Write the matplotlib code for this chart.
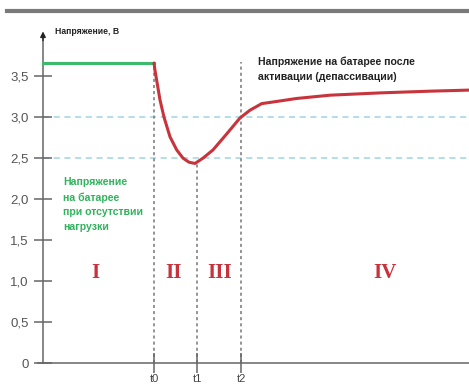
import matplotlib
matplotlib.use("Agg")
import matplotlib.pyplot as plt
from matplotlib.lines import Line2D

# time marks of the phases
t_marks = [111, 154, 198]
t_labels = ["t0", "t1", "t2"]

# no-load voltage before t0
idle_t = [0, 111]
idle_v = [3.66, 3.66]

# voltage under load after t0
load_t = [111, 112, 117, 121, 127, 133.7, 140, 146, 152, 160, 170, 184, 197,
          207, 218.7, 230, 253.7, 287, 337, 387, 426]
load_v = [3.66, 3.57, 3.21, 3.0, 2.76, 2.6, 2.5, 2.45, 2.435, 2.5, 2.6, 2.8, 2.99,
          3.085, 3.165, 3.185, 3.228, 3.268, 3.296, 3.317, 3.33]

y_ticks = [0, 0.5, 1.0, 1.5, 2.0, 2.5, 3.0, 3.5]
y_ticklabels = ["0", "0,5", "1,0", "1,5", "2,0", "2,5", "3,0", "3,5"]
ref_levels = [2.5, 3.0]

phases = ["I", "II", "III", "IV"]
phase_x = [52, 130, 177, 342]

sans = ["Liberation Sans", "DejaVu Sans"]

fig = plt.figure(figsize=(4.69, 3.87), dpi=100)
ax = fig.add_axes([38 / 469, 24 / 387, 431 / 469, 336 / 387])
ax.set_xlim(-5, 426)
ax.set_ylim(0, 4.1)

# top rule
fig.add_artist(Line2D([7 / 469, 1.0], [1 - 11 / 387] * 2, color="#7a7a7a", lw=3))

for s in ["top", "right"]:
    ax.spines[s].set_visible(False)
ax.spines["left"].set_position(("data", 0))
ax.spines["left"].set_bounds(0, 4.0)
for s in ["left", "bottom"]:
    ax.spines[s].set_color("#666666")
    ax.spines[s].set_linewidth(1.1)

# arrow on the voltage axis
ax.annotate("", xy=(0, 4.08), xytext=(0, 3.9),
            arrowprops=dict(arrowstyle="-|>", color="#222222", lw=1, mutation_scale=8))

ax.set_yticks(y_ticks)
ax.set_yticklabels(y_ticklabels, family=sans, fontsize=9.5, color="#555555")
ax.set_xticks(t_marks)
ax.set_xticklabels(t_labels, family=sans, fontsize=8, color="#444444")
ax.tick_params(axis="y", direction="inout", length=13, width=1.1, color="#666666", pad=4)
ax.tick_params(axis="x", direction="inout", length=14, width=1.1, color="#666666", pad=1)

# reference levels
for lv in ref_levels:
    ax.plot([0, 426], [lv, lv], ls=(0, (4, 3)), color="#9fd6e2", lw=1.1, zorder=1)

# phase borders
tops = [3.66, min(load_v), 3.67]
for tm, top in zip(t_marks, tops):
    ax.plot([tm, tm], [0, top], ls=(0, (2, 2)), color="#777777", lw=1.1, zorder=1)

ax.plot(idle_t, idle_v, color="#3dbb6c", lw=2.2, zorder=3)
ax.plot(load_t, load_v, color="#c8343c", lw=2.2, zorder=3, solid_capstyle="round")

for name, px in zip(phases, phase_x):
    ax.text(px, 1.1, name, color="#c8323c", fontsize=15, fontweight="bold",
            family="Liberation Serif", ha="center", va="center")

ax.text(20, 2.27, "Напряжение\nна батарее\nпри отсутствии\nнагрузки", color="#2fb35c",
        fontsize=7.6, fontweight="bold", family=sans, va="top", ha="left",
        linespacing=1.6)
ax.text(215, 3.74, "Напряжение на батарее после\nактивации (депассивации)", color="#222222",
        fontsize=7.6, fontweight="bold", family=sans, va="top", ha="left",
        linespacing=1.6)
ax.text(12, 4.05, "Напряжение, В", color="#222222", fontsize=6.2, fontweight="bold",
        family=sans, va="center", ha="left")

fig.savefig("out.png", dpi=100)
